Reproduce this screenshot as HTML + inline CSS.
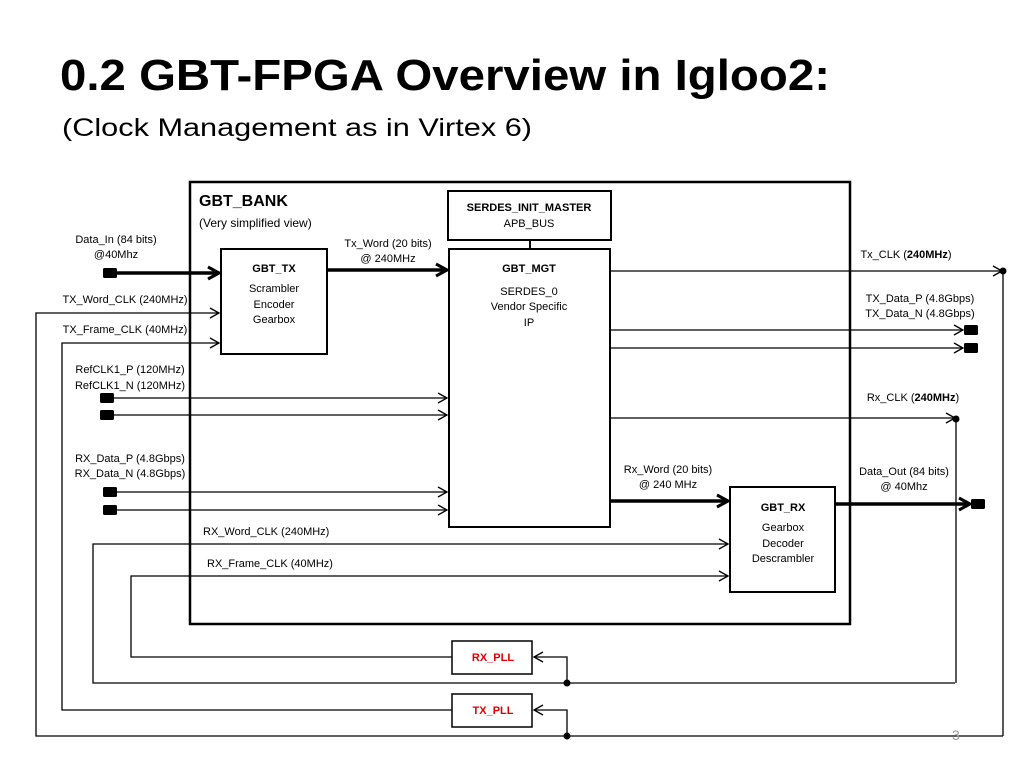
<!DOCTYPE html>
<html><head><meta charset="utf-8"><style>
html,body{margin:0;padding:0;background:#fff;}
svg{display:block;font-family:"Liberation Sans",sans-serif;}
</style></head><body>
<svg width="1024" height="768" viewBox="0 0 1024 768" xmlns="http://www.w3.org/2000/svg">
<defs>
<marker id="oa" markerWidth="12" markerHeight="12" refX="10" refY="6" orient="auto" markerUnits="userSpaceOnUse"><path d="M1,1 L10,6 L1,11" fill="none" stroke="#000" stroke-width="1.3"/></marker>
<marker id="ta" markerWidth="16" markerHeight="16" refX="13" refY="8" orient="auto" markerUnits="userSpaceOnUse"><path d="M2,2 L13,8 L2,14" fill="none" stroke="#000" stroke-width="3"/></marker>
</defs>
<text x="60" y="90" font-size="44" font-weight="bold" textLength="770" lengthAdjust="spacingAndGlyphs">0.2  GBT-FPGA Overview in Igloo2:</text>
<text x="62" y="136" font-size="25" textLength="470" lengthAdjust="spacingAndGlyphs">(Clock Management as in Virtex 6)</text>

<g fill="none" stroke="#000">
<rect x="190" y="182" width="660" height="442" stroke-width="2.5"/>
<rect x="448" y="191" width="163" height="49" stroke-width="2"/>
<rect x="449" y="249" width="161" height="278" stroke-width="2"/>
<line x1="530" y1="240" x2="530" y2="249" stroke-width="2"/>
<rect x="221" y="249" width="106" height="105" stroke-width="2"/>
<rect x="730" y="487" width="105" height="105" stroke-width="2"/>
<rect x="452" y="641" width="80" height="33" stroke-width="1.5"/>
<rect x="452" y="694" width="80" height="33" stroke-width="1.5"/>

<g stroke-width="3.5">
<line x1="110" y1="273" x2="219" y2="273" marker-end="url(#ta)"/>
<line x1="327" y1="270" x2="447" y2="270" marker-end="url(#ta)"/>
<line x1="610" y1="501" x2="728" y2="501" marker-end="url(#ta)"/>
<line x1="835" y1="504" x2="970" y2="504" marker-end="url(#ta)"/>
</g>
<g stroke-width="1.3">
<polyline points="567,736 36,736 36,313 219,313" marker-end="url(#oa)"/>
<polyline points="452,710 62,710 62,343 219,343" marker-end="url(#oa)"/>
<line x1="110" y1="398" x2="447" y2="398" marker-end="url(#oa)"/>
<line x1="110" y1="415" x2="447" y2="415" marker-end="url(#oa)"/>
<line x1="110" y1="492" x2="447" y2="492" marker-end="url(#oa)"/>
<line x1="110" y1="510" x2="447" y2="510" marker-end="url(#oa)"/>
<polyline points="955,683 93,683 93,544 728,544" marker-end="url(#oa)"/>
<polyline points="452,657 131,657 131,576 728,576" marker-end="url(#oa)"/>
<line x1="610" y1="271" x2="1002" y2="271" marker-end="url(#oa)"/>
<line x1="610" y1="330" x2="963" y2="330" marker-end="url(#oa)"/>
<line x1="610" y1="348" x2="963" y2="348" marker-end="url(#oa)"/>
<line x1="610" y1="418" x2="955" y2="418" marker-end="url(#oa)"/>
<line x1="1003" y1="271" x2="1003" y2="736"/>
<line x1="567" y1="736" x2="1003" y2="736"/>
<line x1="956" y1="419" x2="956" y2="683"/>
<polyline points="567,683 567,657 534,657" marker-end="url(#oa)"/>
<polyline points="567,736 567,710 534,710" marker-end="url(#oa)"/>
</g>
</g>
<g fill="#000">
<rect x="103" y="268" width="14" height="10" rx="1.5"/>
<rect x="100" y="393" width="14" height="10" rx="1.5"/>
<rect x="100" y="410" width="14" height="10" rx="1.5"/>
<rect x="103" y="487" width="14" height="10" rx="1.5"/>
<rect x="103" y="505" width="14" height="10" rx="1.5"/>
<rect x="964" y="325" width="14" height="10" rx="1.5"/>
<rect x="964" y="343" width="14" height="10" rx="1.5"/>
<rect x="971" y="499" width="14" height="10" rx="1.5"/>
<circle cx="1003" cy="271" r="3.5"/>
<circle cx="956" cy="419" r="3.5"/>
<circle cx="567" cy="683" r="3.5"/>
<circle cx="567" cy="736" r="3.5"/>
</g>

<g font-size="11" text-anchor="middle">
<text x="116" y="243">Data_In (84 bits)</text>
<text x="116" y="258">@40Mhz</text>
<text x="388" y="247">Tx_Word (20 bits)</text>
<text x="388" y="262">@ 240MHz</text>
<text x="125" y="303">TX_Word_CLK (240MHz)</text>
<text x="125" y="333">TX_Frame_CLK (40MHz)</text>
<text x="130" y="373">RefCLK1_P (120MHz)</text>
<text x="130" y="389">RefCLK1_N (120MHz)</text>
<text x="130" y="462">RX_Data_P (4.8Gbps)</text>
<text x="130" y="477">RX_Data_N (4.8Gbps)</text>
<text x="274" y="272" font-weight="bold">GBT_TX</text>
<text x="274" y="292">Scrambler</text>
<text x="274" y="308">Encoder</text>
<text x="274" y="323">Gearbox</text>
<text x="529" y="211" font-weight="bold">SERDES_INIT_MASTER</text>
<text x="529" y="227">APB_BUS</text>
<text x="529" y="272" font-weight="bold">GBT_MGT</text>
<text x="529" y="295">SERDES_0</text>
<text x="529" y="310">Vendor Specific</text>
<text x="529" y="326">IP</text>
<text x="906" y="258">Tx_CLK (<tspan font-weight="bold">240MHz</tspan>)</text>
<text x="920" y="302">TX_Data_P (4.8Gbps)</text>
<text x="920" y="317">TX_Data_N (4.8Gbps)</text>
<text x="913" y="401">Rx_CLK (<tspan font-weight="bold">240MHz</tspan>)</text>
<text x="668" y="473">Rx_Word (20 bits)</text>
<text x="668" y="488">@ 240 MHz</text>
<text x="904" y="475">Data_Out (84 bits)</text>
<text x="904" y="490">@ 40Mhz</text>
<text x="783" y="511" font-weight="bold">GBT_RX</text>
<text x="783" y="531">Gearbox</text>
<text x="783" y="547">Decoder</text>
<text x="783" y="562">Descrambler</text>
<text x="493" y="661" font-weight="bold" fill="#e00000">RX_PLL</text>
<text x="493" y="714" font-weight="bold" fill="#e00000">TX_PLL</text>
</g>
<g font-size="11">
<text x="203" y="535">RX_Word_CLK (240MHz)</text>
<text x="207" y="567">RX_Frame_CLK (40MHz)</text>
<text x="199" y="227" font-size="12">(Very simplified view)</text>
<text x="199" y="206" font-size="16" font-weight="bold">GBT_BANK</text>
<text x="952" y="740" font-size="14" fill="#999">3</text>
</g>
</svg>
</body></html>
